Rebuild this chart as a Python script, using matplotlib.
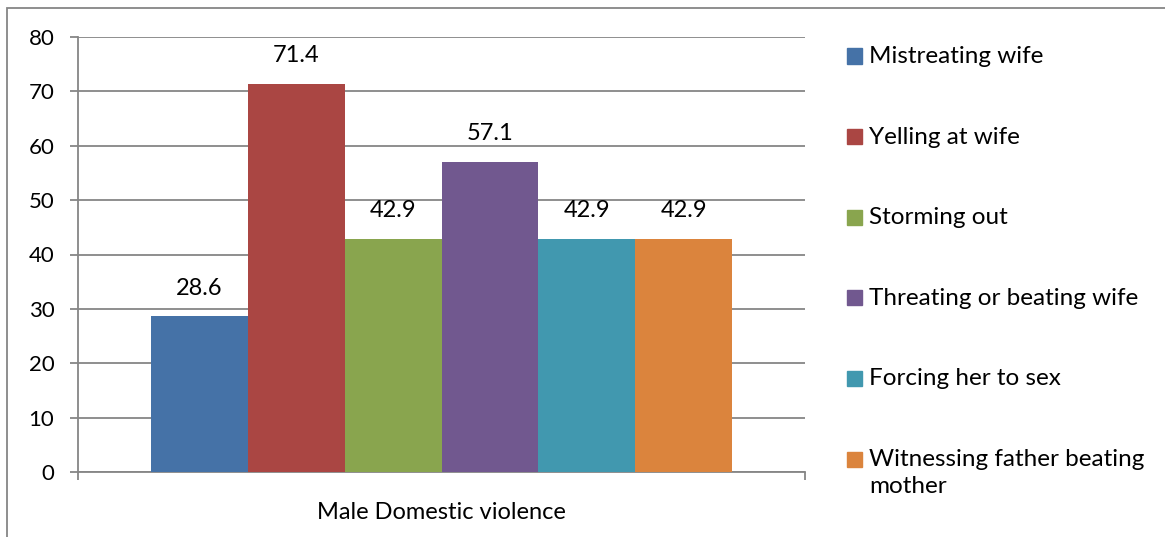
import numpy as np
import matplotlib.pyplot as plt
from matplotlib.patches import Rectangle

plt.rcParams['font.family'] = ['Lato', 'DejaVu Sans']

categories = ["Mistreating wife", "Yelling at wife", "Storming out",
              "Threating or beating wife", "Forcing her to sex",
              "Witnessing father beating\nmother"]
values = [28.6, 71.4, 42.9, 57.1, 42.9, 42.9]
colors = ["#4572a7", "#aa4643", "#89a54e", "#71588f", "#4198af", "#db843d"]
group_label = "Male Domestic violence"

W, H = 1165, 537
fig = plt.figure(figsize=(W / 100, H / 100), dpi=100)
ax = fig.add_axes([78/W, 1 - 472/H, 727/W, 435/H])

n = len(values)
width = 0.8 / n
x = -0.4 + width * (np.arange(n) + 0.5)
ax.bar(x, values, width=width, color=colors, zorder=3)
for xi, v in zip(x, values):
    ax.text(xi, v + 3.3, f"{v:.1f}", ha='center', va='bottom', fontsize=17)

ax.set_xlim(-0.5, 0.5)
ax.set_ylim(0, 80)
ax.set_yticks(range(0, 81, 10))
ax.tick_params(axis='y', labelsize=16, length=6, color='#868686', width=1.3, pad=11)
ax.set_xticks([-0.5, 0.5])
ax.set_xticklabels(["", ""])
ax.tick_params(axis='x', length=6, color='#868686', width=1.3)
ax.text(0.5, -0.07, group_label, transform=ax.transAxes, ha='center', va='top', fontsize=17)
ax.grid(axis='y', color='#868686', linewidth=1.3, zorder=0)
for s in ['top', 'right']:
    ax.spines[s].set_visible(False)
for s in ['left', 'bottom']:
    ax.spines[s].set_color('#868686')
    ax.spines[s].set_linewidth(1.3)

# legend drawn by hand so the two-line entry keeps its square on the first line
for i, (lab, c) in enumerate(zip(categories, colors)):
    yc = 56 + 80.6 * i
    fig.patches.append(Rectangle((847/W, 1 - (yc + 7.5)/H), 15/W, 15/H,
                                 transform=fig.transFigure, color=c))
    fig.text(869/W, 1 - (yc - 10)/H, lab, ha='left', va='top', fontsize=17.5,
             linespacing=1.35)

fig.patches.append(Rectangle((7/W, -0.05), 1.1, 1 - 8/H + 0.05,
                             transform=fig.transFigure, fill=False,
                             edgecolor='#868686', linewidth=1.3))

fig.savefig("out.png", dpi=100)
